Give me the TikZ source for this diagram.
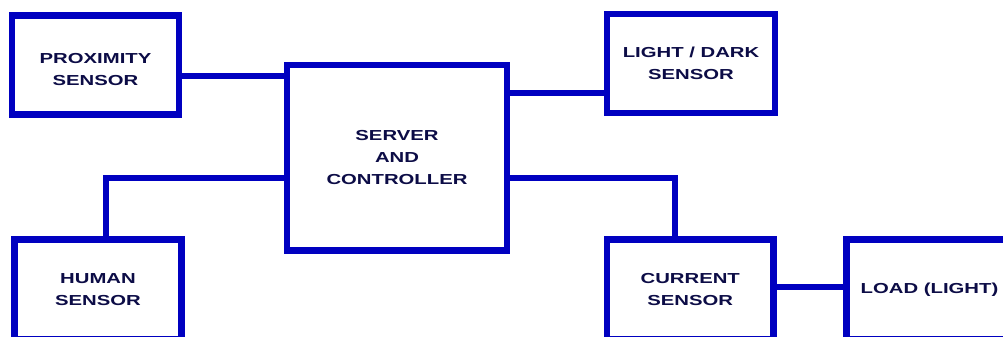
\documentclass[tikz,border=0pt]{standalone}
\usepackage{fontspec}
\usepackage{xcolor}
\usepackage{tikz}
\usetikzlibrary{positioning}
\newfontfamily\blockfont[FakeStretch=1.4]{Liberation Sans}
\definecolor{boxblue}{RGB}{0,0,192}
\definecolor{textnavy}{RGB}{12,12,70}

\begin{document}
\begin{tikzpicture}[x=1pt, y=-1pt, line width=6.5pt,
  block/.style={draw=boxblue, fill=white, inner sep=0pt, align=center, text=textnavy,
    font=\blockfont\bfseries\fontsize{14.5}{22}\selectfont},
  link/.style={draw=boxblue}]
\useasboundingbox (0,0) rectangle (1003,337);
\clip (0,0) rectangle (1003,337);

\node[block, minimum width=167pt, minimum height=99pt, text height=42pt] (prox) at (95.5,65) {PROXIMITY\\SENSOR};
\node[block, minimum width=220pt, minimum height=185.5pt] (server) at (397,157.75) {SERVER\\AND\\CONTROLLER};
\node[block, minimum width=168pt, minimum height=99pt] (light) at (691,63.5) {LIGHT / DARK\\SENSOR};
\node[block, minimum width=167pt, minimum height=100pt] (human) at (98,289.5) {HUMAN\\SENSOR};
\node[block, minimum width=166.5pt, minimum height=100pt] (current) at (690.25,289.5) {CURRENT\\SENSOR};
\node[block, minimum width=166pt, minimum height=100pt] (load) at (929.5,289.5) {LOAD (LIGHT)};

\draw[link] ([yshift=-11pt]prox.east) -- ([yshift=-11pt]prox.east -| server.west);
\draw[link] ([yshift=-29.5pt]light.west -| server.east) -- ([xshift=6pt,yshift=-29.5pt]light.west);
\draw[link] ([yshift=-20.25pt]server.east) -| ([xshift=-15.25pt]current.north);
\draw[link] ([yshift=-20.25pt]server.west) -| ([xshift=8pt]human.north);
\draw[link] ([yshift=2.5pt]current.east) -- ([yshift=2.5pt]current.east -| load.west);
\end{tikzpicture}
\end{document}
